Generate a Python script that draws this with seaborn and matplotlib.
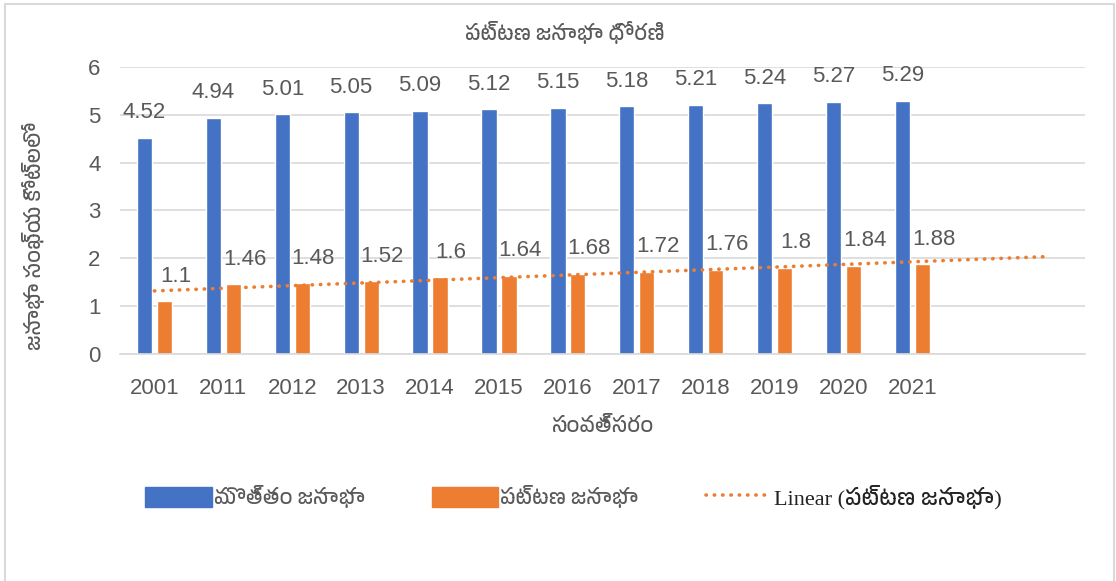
import pandas as pd
import numpy as np
import matplotlib
matplotlib.use('Agg')
import matplotlib.pyplot as plt
import seaborn as sns
from matplotlib import font_manager
from matplotlib.ft2font import FT2Font
from matplotlib.patches import Patch, Rectangle
from matplotlib.lines import Line2D

years = ['2001', '2011', '2012', '2013', '2014', '2015', '2016',
         '2017', '2018', '2019', '2020', '2021']
total_pop = [4.52, 4.94, 5.01, 5.05, 5.09, 5.12, 5.15, 5.18, 5.21, 5.24, 5.27, 5.29]
urban_pop = [1.1, 1.46, 1.48, 1.52, 1.6, 1.64, 1.68, 1.72, 1.76, 1.8, 1.84, 1.88]
series_names = ['మొత్తం జనాభా', 'పట్టణ జనాభా']
title = 'పట్టణ జనాభా ధోరణి'
xlabel = 'సంవత్సరం'
ylabel = 'జనాభా సంఖ్య కోట్లలో'
trend_name = 'Linear (పట్టణ జనాభా)'
forecast = 2  # trendline forecast forward, periods

BLUE = '#4472C4'
ORANGE = '#ED7D31'
GREY = '#595959'


def find_telugu():
    # any installed font that has Telugu glyphs
    for f in font_manager.fontManager.ttflist:
        if 'telugu' in f.name.lower():
            return f.name
    for f in font_manager.fontManager.ttflist:
        try:
            if 0x0C1F in FT2Font(f.fname).get_charmap():
                return f.name
        except Exception:
            pass
    return None


sns.set_style('white')
tel = find_telugu()
fams = ([tel] if tel else []) + ['Liberation Sans', 'DejaVu Sans']
num_fams = ['Liberation Sans', 'DejaVu Sans']
plt.rcParams['font.family'] = fams

df = pd.DataFrame({
    'year': years * 2,
    'value': total_pop + urban_pop,
    'series': [series_names[0]] * len(years) + [series_names[1]] * len(years),
})

fig = plt.figure(figsize=(11.16, 5.81), dpi=100)
ax = fig.add_axes([0.1075, 0.3907, 0.8645, 0.494])

sns.barplot(data=df, x='year', y='value', hue='series', order=years,
            hue_order=series_names, palette=[BLUE, ORANGE], width=0.58,
            gap=0.24, saturation=1, legend=False, ax=ax)

# data labels (orange ones sit a little to the right, like the original)
for i, cont in enumerate(ax.containers):
    dx = 0 if i == 0 else 8
    for bar in cont:
        h = bar.get_height()
        ax.annotate(f'{h:g}', (bar.get_x() + bar.get_width() / 2, h),
                    xytext=(dx, 18), textcoords='offset points',
                    ha='center', va='center', fontsize=16, color=GREY,
                    family=num_fams)

# linear trendline on urban series, Excel style with forecast
xi = np.arange(1, len(years) + 1)
k, b = np.polyfit(xi, urban_pop, 1)
xt = np.array([1, len(years) + forecast])
ax.plot(xt - 1, k * xt + b, color=ORANGE, lw=2.6,
        linestyle=(0, (0.1, 2.2)), dash_capstyle='round')

ax.set_xlim(-0.5, len(years) + forecast - 0.5)
ax.set_ylim(0, 6)
ax.set_yticks(range(0, 7))
ax.yaxis.grid(True, color='#d9d9d9', lw=1.2)
ax.set_axisbelow(True)
for s in ['left', 'right', 'top']:
    ax.spines[s].set_visible(False)
ax.spines['bottom'].set_color('#d9d9d9')
ax.spines['bottom'].set_linewidth(1.2)
ax.tick_params(axis='both', length=0, labelsize=16, labelcolor=GREY)
ax.tick_params(axis='x', pad=17)
ax.tick_params(axis='y', pad=14)
for t in ax.get_xticklabels() + ax.get_yticklabels():
    t.set_family(num_fams)

ax.set_xlabel(xlabel, fontsize=15, color=GREY, labelpad=13)
ax.set_ylabel(ylabel, fontsize=15, color=GREY)
ax.yaxis.set_label_coords(-0.078, 0.41)
fig.text(0.506, 1 - 33 / 581, title, fontsize=15, color=GREY,
         ha='center', va='center')

handles = [Patch(color=BLUE), Patch(color=ORANGE),
           Line2D([0], [0], color=ORANGE, lw=2.6, linestyle=(0, (0.1, 2.2)),
                  dash_capstyle='round')]
leg = fig.legend(handles, series_names + [trend_name], loc='center',
                 bbox_to_anchor=(0.514, 0.145), ncol=3, frameon=False,
                 fontsize=15, handlelength=3.2, handleheight=1.1,
                 columnspacing=3.2, handletextpad=0.1)
for t in leg.get_texts():
    t.set_color(GREY)
lt = leg.get_texts()[2]
lt.set_color('#222222')
lt.set_family(['Liberation Serif'] + fams)
lt.set_fontsize(16)

# chart area border
fig.patches.append(Rectangle((5 / 1116, -0.02), 1109 / 1116, 1 - 4 / 581 + 0.02,
                             transform=fig.transFigure, fill=False,
                             edgecolor='#d9d9d9', lw=1.5))

fig.savefig('out.png', dpi=100)
